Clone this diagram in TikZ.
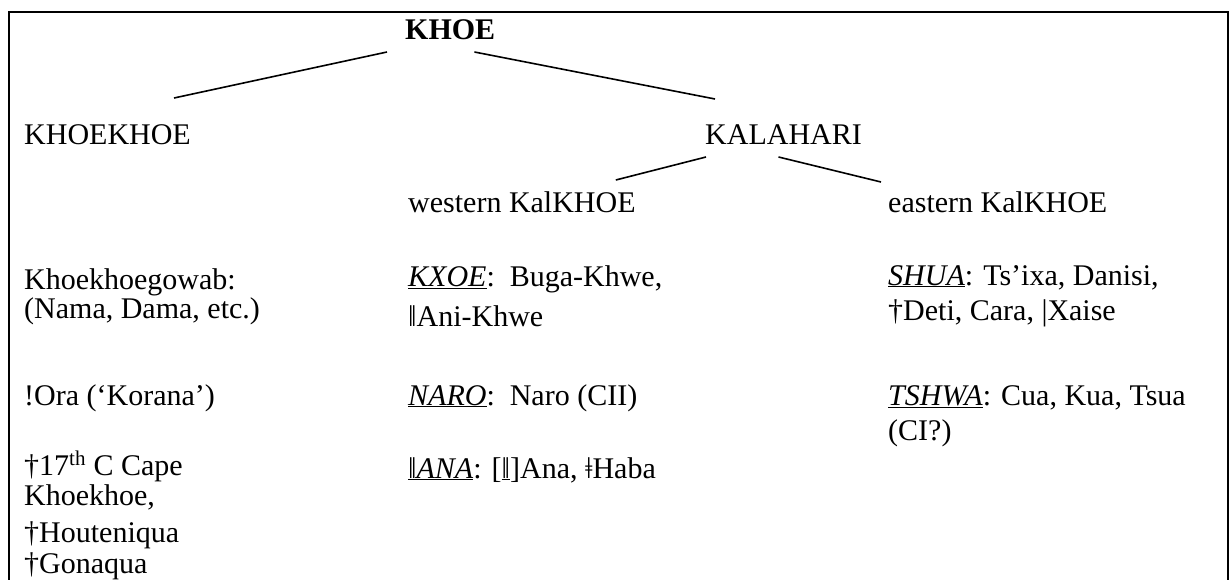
\documentclass[tikz,border=0pt]{standalone}
\usepackage{fontspec}
\setmainfont{Liberation Serif}
\usepackage{tikz}
\newcommand{\langName}[1]{\underline{\textit{#1}}}
\newcommand{\labelSize}[0]{30}
\newcommand{\branchWidth}[0]{1.6pt}

\begin{document}
\begin{tikzpicture}[x=1pt, y=-1pt]
  \tikzset{every node/.style={anchor=base west, inner sep=0pt, font=\fontsize{\labelSize}{36}\selectfont}}
  \useasboundingbox (0,0) rectangle (1232,580);
  \draw[line width=1.2pt] (9,580) -- (9,12) -- (1228,12) -- (1228,580);
  % tree heads
  \node(KHOE-1-1) at (405,40) {\textbf{KHOE}};
  \node(KHOEKHOE-1-1) at (24,145) {KHOEKHOE};
  \node(KALAHARI-1-1) at (705,145) {KALAHARI};
  \node(western-1-1) at (408,213) {western KalKHOE};
  \node(eastern-1-1) at (888,213) {eastern KalKHOE};
  % KHOEKHOE languages
  \node(Khoekhoegowab-1-1) at (24,290) {Khoekhoegowab:};
  \node(Khoekhoegowab-1-2) at (24,318) {(Nama, Dama, etc.)};
  \node(Ora-1-1) at (24,405) {!Ora (‘Korana’)};
  \node(Cape-1-1) at (24,475) {†17\textsuperscript{th} C Cape};
  \node(Cape-1-2) at (24,505) {Khoekhoe,};
  \node(Cape-1-3) at (24,542) {†Houteniqua};
  \node(Cape-1-4) at (24,573) {†Gonaqua};
  % western KalKHOE
  \node(KXOE-1-1) at (408,287) {\langName{KXOE}:\ \ Buga-Khwe,};
  \node(KXOE-1-2) at (408,326) {ǁAni-Khwe};
  \node(NARO-1-1) at (408,405) {\langName{NARO}:\ \ Naro (CII)};
  \node(ANA-1-1) at (408,478) {\underline{ǁ\textit{ANA}}: [\underline{ǁ}]Ana, ǂHaba};
  % eastern KalKHOE
  \node(SHUA-1-1) at (888,285) {\langName{SHUA}: Ts’ixa, Danisi,};
  \node(SHUA-1-2) at (888,320) {†Deti, Cara, |Xaise};
  \node(TSHWA-1-1) at (888,405) {\langName{TSHWA}: Cua, Kua, Tsua};
  \node(TSHWA-1-2) at (888,440) {(CI?)};
  \draw[line width=\branchWidth] ([xshift=-18pt,yshift=-12pt]KHOE-1-1.base west) -- ([xshift=-17pt,yshift=47pt]KHOEKHOE-1-1.base east);
  \draw[line width=\branchWidth] ([xshift=-21pt,yshift=-12pt]KHOE-1-1.base east) -- ([xshift=10pt,yshift=46pt]KALAHARI-1-1.base west);
  \draw[line width=\branchWidth] ([xshift=1pt,yshift=-12pt]KALAHARI-1-1.base west) -- ([xshift=-20pt,yshift=33pt]western-1-1.base east);
  \draw[line width=\branchWidth] ([xshift=-5pt,yshift=-12pt]KALAHARI-1-1.base) -- ([xshift=-7pt,yshift=31pt]eastern-1-1.base west);
\end{tikzpicture}
\end{document}
